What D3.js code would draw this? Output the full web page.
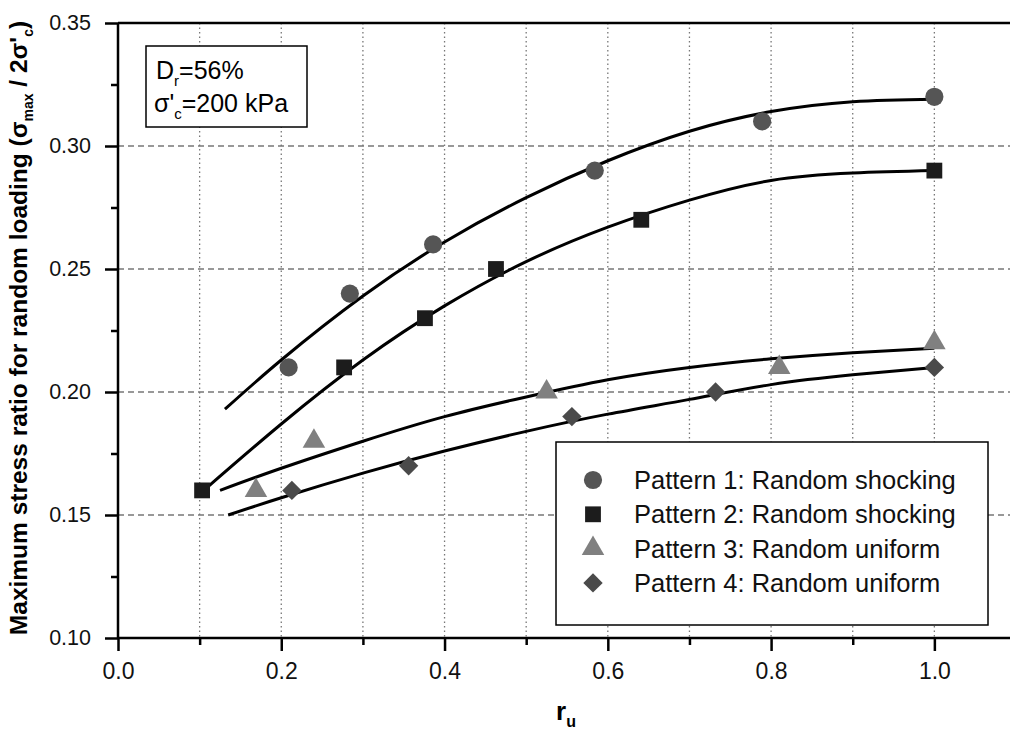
<!DOCTYPE html>
<html>
<head>
<meta charset="utf-8">
<script src="https://cdn.jsdelivr.net/npm/d3@7"></script>
<style>
  body { margin: 0; background: #fff; }
  text { font-family: Arial, "Liberation Sans", sans-serif; }
</style>
</head>
<body>
<svg id="chart"></svg>
<script>
// measured points
var p1X = [0.209, 0.284, 0.386, 0.584, 0.789, 1.0];
var p1Y = [0.21, 0.24, 0.26, 0.29, 0.31, 0.32];
var p2X = [0.103, 0.277, 0.376, 0.463, 0.641, 1.0];
var p2Y = [0.16, 0.21, 0.23, 0.25, 0.27, 0.29];
var p3X = [0.169, 0.240, 0.525, 0.810, 1.0];
var p3Y = [0.16, 0.18, 0.20, 0.21, 0.22];
var p4X = [0.213, 0.356, 0.556, 0.732, 1.0];
var p4Y = [0.16, 0.17, 0.19, 0.20, 0.21];

// fitted trend lines
var fit1X = [0.131, 0.2, 0.3, 0.4, 0.5, 0.6, 0.7, 0.8, 0.9, 1.0];
var fit1Y = [0.193, 0.213, 0.239, 0.261, 0.279, 0.294, 0.306, 0.314, 0.318, 0.319];
var fit2X = [0.105, 0.2, 0.3, 0.4, 0.5, 0.6, 0.7, 0.8, 0.9, 1.0];
var fit2Y = [0.160, 0.187, 0.213, 0.235, 0.253, 0.267, 0.278, 0.286, 0.289, 0.290];
var fit3X = [0.125, 0.2, 0.3, 0.4, 0.5, 0.6, 0.7, 0.8, 0.9, 1.0];
var fit3Y = [0.160, 0.169, 0.180, 0.190, 0.198, 0.205, 0.210, 0.2135, 0.216, 0.2178];
var fit4X = [0.135, 0.2, 0.3, 0.4, 0.5, 0.6, 0.7, 0.8, 0.9, 1.0];
var fit4Y = [0.150, 0.157, 0.167, 0.176, 0.184, 0.191, 0.197, 0.203, 0.207, 0.210];

var seriesNames = ['Pattern 1: Random shocking', 'Pattern 2: Random shocking',
                   'Pattern 3: Random uniform', 'Pattern 4: Random uniform'];

var xMajor = [0, 0.2, 0.4, 0.6, 0.8, 1.0];
var xMajorLabels = ['0.0', '0.2', '0.4', '0.6', '0.8', '1.0'];
var xMinor = [0.1, 0.3, 0.5, 0.7, 0.9];
var xGrid = [0.1, 0.2, 0.3, 0.4, 0.5, 0.6, 0.7, 0.8, 0.9, 1.0];
var yMajor = [0.10, 0.15, 0.20, 0.25, 0.30, 0.35];
var yMajorLabels = ['0.10', '0.15', '0.20', '0.25', '0.30', '0.35'];
var yMinor = [0.125, 0.175, 0.225, 0.275, 0.325];
var yGrid = [0.15, 0.20, 0.25, 0.30];

var width = 1010;
var height = 731;
var mLeft = 118, mRight = 1016, mTop = 23, mBottom = 638;

var svg = d3.select('#chart')
    .attr('width', width)
    .attr('height', height);

var x = d3.scaleLinear().domain([0, 1.1]).range([mLeft, mRight]);
var y = d3.scaleLinear().domain([0.10, 0.35]).range([mBottom, mTop]);

// grid
svg.selectAll('.vgrid')
    .data(xGrid)
    .enter()
    .append('line')
    .attr('x1', d => x(d)).attr('x2', d => x(d))
    .attr('y1', mTop).attr('y2', mBottom)
    .attr('stroke', '#777')
    .attr('stroke-width', 1.3)
    .attr('stroke-dasharray', '1.5,3');

svg.selectAll('.hgrid')
    .data(yGrid)
    .enter()
    .append('line')
    .attr('x1', mLeft).attr('x2', mRight)
    .attr('y1', d => y(d)).attr('y2', d => y(d))
    .attr('stroke', '#777')
    .attr('stroke-width', 1.3)
    .attr('stroke-dasharray', '6,4');

// axes
var xAxis = d3.axisBottom(x).tickValues(xMajor).tickSize(13).tickFormat((d, i) => xMajorLabels[i]);
var xAxisMinor = d3.axisBottom(x).tickValues(xMinor).tickSize(7).tickFormat('');
var yAxis = d3.axisLeft(y).tickValues(yMajor).tickSize(13).tickFormat((d, i) => yMajorLabels[i]);
var yAxisMinor = d3.axisLeft(y).tickValues(yMinor).tickSize(7).tickFormat('');

function styleAxis(g, size) {
    g.select('.domain').remove();
    g.selectAll('line').attr('stroke', '#000').attr('stroke-width', 2.5);
    g.selectAll('text').attr('fill', '#111').style('font-size', size + 'px');
}

svg.append('g').attr('transform', `translate(0,${mBottom})`).call(xAxis)
    .call(g => styleAxis(g, 23))
    .selectAll('text').attr('dy', '1.1em');
svg.append('g').attr('transform', `translate(0,${mBottom})`).call(xAxisMinor).call(g => styleAxis(g, 10));
svg.append('g').attr('transform', `translate(${mLeft},0)`).call(yAxis)
    .call(g => styleAxis(g, 21.5))
    .selectAll('text').attr('x', -27);
svg.append('g').attr('transform', `translate(${mLeft},0)`).call(yAxisMinor).call(g => styleAxis(g, 10));

svg.append('line').attr('x1', mLeft).attr('x2', mRight).attr('y1', mBottom).attr('y2', mBottom)
    .attr('stroke', '#000').attr('stroke-width', 2.5);
svg.append('line').attr('x1', mLeft).attr('x2', mRight).attr('y1', mTop).attr('y2', mTop)
    .attr('stroke', '#000').attr('stroke-width', 2.5);
svg.append('line').attr('x1', mLeft).attr('x2', mLeft).attr('y1', mTop).attr('y2', mBottom)
    .attr('stroke', '#000').attr('stroke-width', 2.5);

// trend lines
var line = d3.line()
    .x(d => x(d[0]))
    .y(d => y(d[1]))
    .curve(d3.curveNatural);

[[fit1X, fit1Y], [fit2X, fit2Y], [fit3X, fit3Y], [fit4X, fit4Y]].forEach(function (f) {
    svg.append('path')
        .attr('d', line(d3.zip(f[0], f[1])))
        .attr('fill', 'none')
        .attr('stroke', '#000')
        .attr('stroke-width', 3);
});

// markers
var markers = [
    {xs: p1X, ys: p1Y, type: d3.symbolCircle, size: 260, color: '#555555'},
    {xs: p2X, ys: p2Y, type: d3.symbolSquare, size: 250, color: '#1c1c1c'},
    {xs: p3X, ys: p3Y, type: d3.symbolTriangle, size: 220, color: '#808080'},
    {xs: p4X, ys: p4Y, type: d3.symbolDiamond2, size: 240, color: '#4a4a4a'}
];

markers.forEach(function (m) {
    svg.selectAll(null)
        .data(d3.zip(m.xs, m.ys))
        .enter()
        .append('path')
        .attr('d', d3.symbol().type(m.type).size(m.size))
        .attr('transform', d => `translate(${x(d[0])},${y(d[1])})`)
        .attr('fill', m.color);
});

// condition box
svg.append('rect')
    .attr('x', 146).attr('y', 46).attr('width', 161).attr('height', 81)
    .attr('fill', '#fff').attr('stroke', '#000').attr('stroke-width', 1.5);

var t1 = svg.append('text').attr('x', 156).attr('y', 79).style('font-size', '25px');
t1.append('tspan').text('D');
t1.append('tspan').attr('dy', 7).style('font-size', '15px').text('r');
t1.append('tspan').attr('dy', -7).text('=56%');

var t2 = svg.append('text').attr('x', 154).attr('y', 112).style('font-size', '25px');
t2.append('tspan').text('σ\'');
t2.append('tspan').attr('dy', 7).style('font-size', '15px').text('c');
t2.append('tspan').attr('dy', -7).text('=200 kPa');

// legend
svg.append('rect')
    .attr('x', 556).attr('y', 442).attr('width', 432).attr('height', 183)
    .attr('fill', '#fff').attr('stroke', '#000').attr('stroke-width', 1.5);

markers.forEach(function (m, i) {
    var cy = 480 + i * 34.3;
    svg.append('path')
        .attr('d', d3.symbol().type(m.type).size(m.size))
        .attr('transform', `translate(593,${cy})`)
        .attr('fill', m.color);
    svg.append('text')
        .attr('x', 634).attr('y', cy + 9)
        .style('font-size', '25.5px')
        .attr('fill', '#111')
        .text(seriesNames[i]);
});

// axis titles
var xt = svg.append('text')
    .attr('x', 566).attr('y', 720)
    .style('font-size', '26px').style('font-weight', 'bold')
    .attr('text-anchor', 'middle');
xt.append('tspan').text('r');
xt.append('tspan').attr('dy', 7).style('font-size', '16px').text('u');

var yt = svg.append('text')
    .attr('transform', 'translate(27,328) rotate(-90)')
    .attr('text-anchor', 'middle')
    .style('font-size', '24.5px').style('font-weight', 'bold');
yt.append('tspan').text('Maximum stress ratio for random loading (σ');
yt.append('tspan').attr('dy', 6).style('font-size', '14px').text('max');
yt.append('tspan').attr('dy', -6).text(' / 2σ\'');
yt.append('tspan').attr('dy', 6).style('font-size', '14px').text('c');
yt.append('tspan').attr('dy', -6).text(')');
</script>
</body>
</html>
